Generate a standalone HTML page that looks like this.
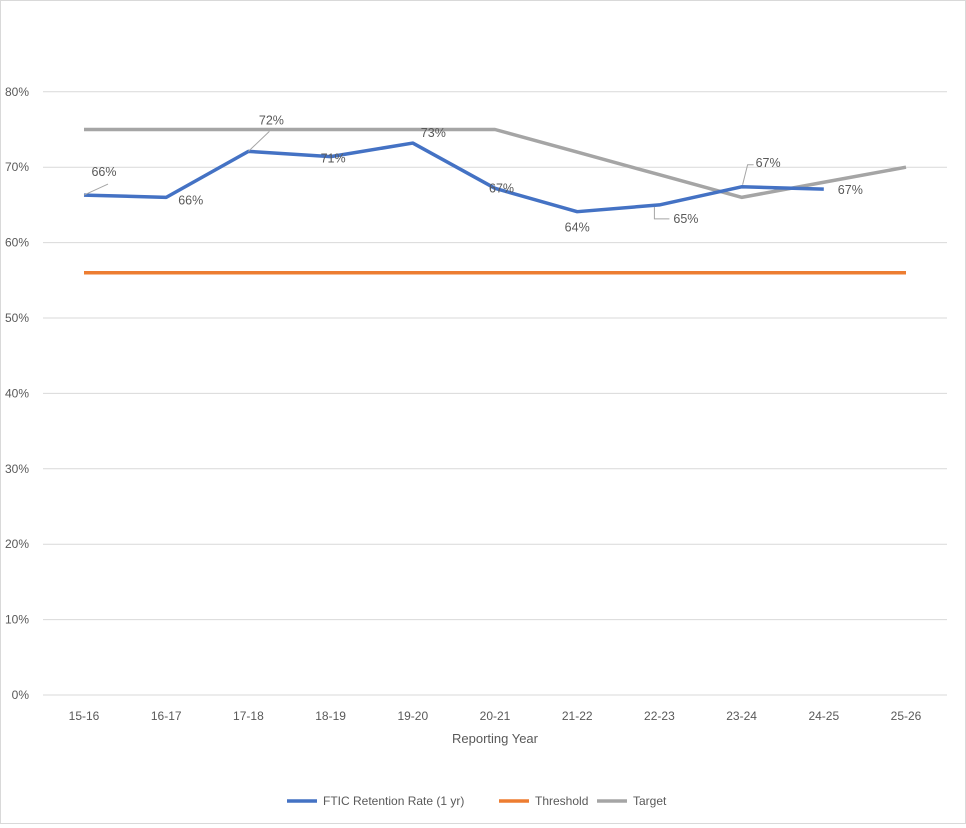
<!DOCTYPE html>
<html><head><meta charset="utf-8"><style>
body{margin:0;background:#fff;font-family:"Liberation Sans",Arial,sans-serif;}
#wrap{width:964px;height:822px;border:1px solid #d9d9d9;position:relative;}
</style></head><body>
<div id="wrap">
<svg id="chart" width="964" height="822"></svg>
</div>
<script>
const categories=["15-16","16-17","17-18","18-19","19-20","20-21","21-22","22-23","23-24","24-25","25-26"];
const retention=[66.3,66.0,72.1,71.4,73.2,67.2,64.1,65.0,67.4,67.1,null];
const threshold=[56,56,56,56,56,56,56,56,56,56,56];
const target=[75,75,75,75,75,75,72,69,66,68,70];
const yTicks=[0,10,20,30,40,50,60,70,80];
const labels=["66%","66%","72%","71%","73%","67%","64%","65%","67%","67%"];
const NS="http://www.w3.org/2000/svg";
const svg=document.getElementById('chart');
const x0=83,dx=82.2,yb=694,py=7.54;
const X=i=>x0+i*dx, Y=v=>yb-v*py;
function mk(t,a,p){const e=document.createElementNS(NS,t);for(const k in a)e.setAttribute(k,a[k]);(p||svg).appendChild(e);return e;}
yTicks.forEach(t=>{
 const g=mk('line',{x1:42,x2:946,y1:Y(t),y2:Y(t),stroke:'#d9d9d9','stroke-width':1});
 
 
 const l=mk('text',{x:28,y:Y(t)+4,'text-anchor':'end','font-size':12,fill:'#595959'});
 l.textContent=t+'%';
 
 
});
categories.forEach((c,i)=>{
 const l=mk('text',{x:X(i),y:719,'text-anchor':'middle','font-size':12,fill:'#595959'});
 l.textContent=c;
 
 
});
const xt=mk('text',{x:494,y:742,'text-anchor':'middle','font-size':13,fill:'#595959'});
xt.textContent='Reporting Year';


function series(arr,color,name){
 let d='';arr.forEach((v,i)=>{if(v==null)return;d+=(d?'L':'M')+X(i)+','+Y(v);});
 const p=mk('path',{d:d,fill:'none',stroke:color,'stroke-width':3.5,'stroke-linejoin':'round'});
 
 
}
series(threshold,'#ed7d31','threshold-line');
series(target,'#a5a5a5','target-line');
series(retention,'#4472c4','retention-line');
// label offsets relative to each point [dx, dy, anchor]
const off=[[20,-19,'middle'],[12,7,'start'],[23,-27,'middle'],[-10,6,'start'],[8,-6,'start'],[-6,4,'start'],[0,20,'middle'],[14,18,'start'],[14,-20,'start'],[14,5,'start']];
labels.forEach((s,i)=>{
 const v=retention[i];
 const t=mk('text',{x:X(i)+off[i][0],y:Y(v)+off[i][1],'font-size':12.5,fill:'#595959','text-anchor':off[i][2]});
 t.textContent=s;
 
 
});
const leaders=[
 [X(0),Y(retention[0]),X(0)+24,Y(retention[0])-11,null],
 [X(2),Y(retention[2]),X(2)+21,Y(retention[2])-20,null],
 [X(7)-5,Y(retention[7])+2,X(7)-5,Y(retention[7])+14,X(7)+10],
 [X(8)+1,Y(retention[8])-2,X(8)+6,Y(retention[8])-22,X(8)+12]
];
leaders.forEach(a=>{
 let d='M'+a[0]+','+a[1]+'L'+a[2]+','+a[3];
 if(a[4]!=null)d+='L'+a[4]+','+a[3];
 const l=mk('path',{d:d,fill:'none',stroke:'#a5a5a5','stroke-width':1});
 
 
});
const legend=[['FTIC Retention Rate (1 yr)','#4472c4',286],['Threshold','#ed7d31',498],['Target','#a5a5a5',596]];
legend.forEach(e=>{
 const g=mk('g',{});
 
 
 mk('line',{x1:e[2],x2:e[2]+30,y1:800,y2:800,stroke:e[1],'stroke-width':3.5},g);
 const t=mk('text',{x:e[2]+36,y:804,'font-size':12,fill:'#595959'},g);
 t.textContent=e[0];
});
</script>
</body></html>
